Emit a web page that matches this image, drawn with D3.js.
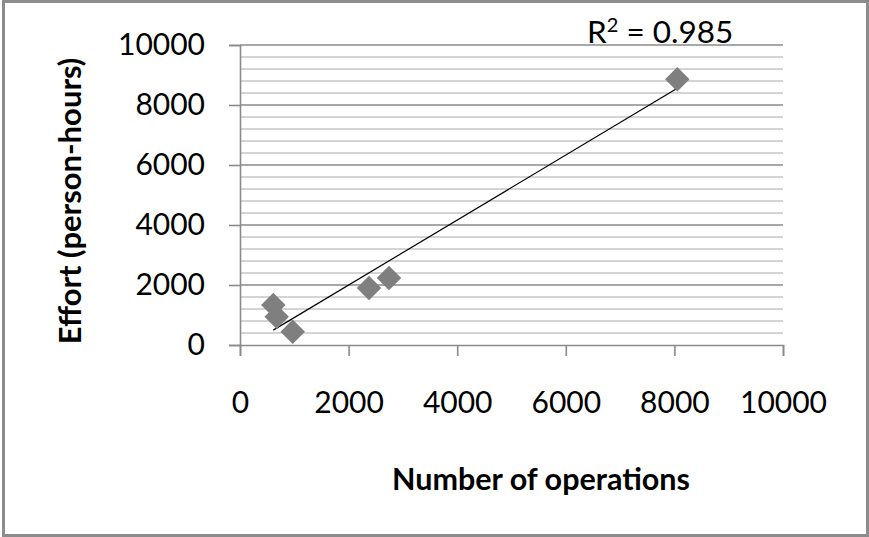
<!DOCTYPE html>
<html>
<head>
<meta charset="utf-8">
<script src="https://cdn.jsdelivr.net/npm/d3@7"></script>
<style>
  body { margin: 0; background: #fff; }
  text { font-family: Lato, "Open Sans", sans-serif; fill: #000; }
</style>
</head>
<body>
<div id="chart"></div>
<script>
// data
const operations = [613, 676, 970, 2376, 2744, 8054];
const effort = [1333, 943, 443, 1900, 2233, 8857];
const tickValues = [0, 2000, 4000, 6000, 8000, 10000];
const rSquared = "0.985";

const width = 869, height = 537;

const svg = d3.select('#chart')
  .append('svg')
  .attr('width', width)
  .attr('height', height);

// outer frame
svg.append('rect')
  .attr('x', 3.5).attr('y', 1.5)
  .attr('width', 864).attr('height', 534)
  .attr('fill', 'none')
  .attr('stroke', '#8c8c8c')
  .attr('stroke-width', 3);

const x = d3.scaleLinear().domain([0, 10000]).range([240, 783]);
const y = d3.scaleLinear().domain([0, 10000]).range([345, 45]);

// minor gridlines every 400
const minor = d3.range(400, 10001, 400).filter(v => v % 2000 !== 0);
svg.selectAll('.minor')
  .data(minor)
  .enter()
  .append('line')
  .attr('x1', x(0)).attr('x2', x(10000))
  .attr('y1', d => y(d)).attr('y2', d => y(d))
  .attr('stroke', '#c6c6c6')
  .attr('stroke-width', 1.3);

// major gridlines
svg.selectAll('.major')
  .data(tickValues.filter(v => v > 0))
  .enter()
  .append('line')
  .attr('x1', x(0)).attr('x2', x(10000))
  .attr('y1', d => y(d)).attr('y2', d => y(d))
  .attr('stroke', '#8a8a8a')
  .attr('stroke-width', 1.6);

// axes
const fmt = d3.format('d');
const yAxis = svg.append('g')
  .attr('transform', 'translate(' + x(0) + ',0)')
  .call(d3.axisLeft(y).tickValues(tickValues).tickFormat(fmt).tickSize(11).tickPadding(24));
const xAxis = svg.append('g')
  .attr('transform', 'translate(0,' + y(0) + ')')
  .call(d3.axisBottom(x).tickValues(tickValues).tickFormat(fmt).tickSize(11).tickPadding(36));

[yAxis, xAxis].forEach(g => {
  g.select('.domain').attr('stroke', '#8a8a8a').attr('stroke-width', 1.6);
  g.selectAll('.tick line').attr('stroke', '#8a8a8a').attr('stroke-width', 1.6);
  g.selectAll('.tick text')
    .style('font-family', 'Lato, sans-serif')
    .style('font-size', '30px')
    .attr('fill', '#000');
});

// trendline (least squares)
const n = operations.length;
const mx = d3.mean(operations), my = d3.mean(effort);
let sxy = 0, sxx = 0;
for (let i = 0; i < n; i++) {
  sxy += (operations[i] - mx) * (effort[i] - my);
  sxx += (operations[i] - mx) ** 2;
}
const slope = sxy / sxx;
const intercept = my - slope * mx;
const xExt = d3.extent(operations);
svg.append('line')
  .attr('x1', x(xExt[0])).attr('y1', y(intercept + slope * xExt[0]))
  .attr('x2', x(xExt[1])).attr('y2', y(intercept + slope * xExt[1]))
  .attr('stroke', '#000')
  .attr('stroke-width', 1.2);

// points
const diamond = d3.symbol().type(d3.symbolSquare).size(300);
svg.selectAll('.pt')
  .data(operations.map((v, i) => ({ ops: v, eff: effort[i] })))
  .enter()
  .append('path')
  .attr('d', diamond)
  .attr('transform', d => 'translate(' + x(d.ops) + ',' + y(d.eff) + ') rotate(45)')
  .attr('fill', '#7f7f7f');

// labels
const r2 = svg.append('text')
  .attr('x', 587).attr('y', 43)
  .style('font-size', '31.5px');
r2.append('tspan').text('R');
r2.append('tspan').attr('dy', -11).style('font-size', '20px').text('2');
r2.append('tspan').attr('dy', 11).text(' = ' + rSquared);

svg.append('text')
  .attr('x', 541).attr('y', 490)
  .attr('text-anchor', 'middle')
  .style('font-size', '30.5px')
  .style('font-weight', 'bold')
  .text('Number of operations');

svg.append('text')
  .attr('transform', 'translate(81,201) rotate(-90)')
  .attr('text-anchor', 'middle')
  .style('font-size', '31px')
  .style('font-weight', 'bold')
  .text('Effort (person-hours)');
</script>
</body>
</html>
